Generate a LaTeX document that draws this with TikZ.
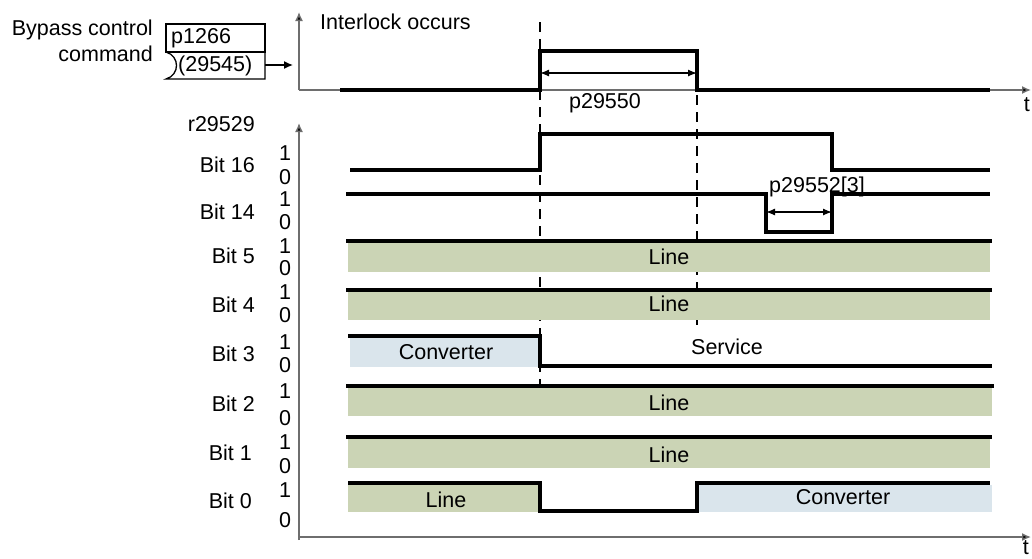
\documentclass[tikz,border=0pt]{standalone}
\usepackage{fontspec}
\setmainfont{Liberation Sans}
\usetikzlibrary{arrows.meta}
\definecolor{linegreen}{RGB}{203,212,181}
\definecolor{convblue}{RGB}{218,229,236}
\definecolor{axisgray}{RGB}{110,110,110}
\begin{document}
\begin{tikzpicture}[x=1pt,y=-1pt,
  txt/.style={inner sep=0pt, font=\fontsize{21.5}{25}\selectfont},
  sig/.style={line width=3.2pt, line join=miter, line cap=rect},
  axisline/.style={line width=1.4pt, draw=axisgray, -{Latex[length=9pt,width=8pt,fill=black]}},
  vdash/.style={line width=1.3pt, dash pattern=on 10pt off 7pt},
  span/.style={line width=1.3pt, {Latex[length=9pt,width=7pt]}-{Latex[length=9pt,width=7pt]}},
  greenfill/.style={fill=linegreen, draw=none},
  bluefill/.style={fill=convblue, draw=none}]
\useasboundingbox (0,0) rectangle (1032,558);

% ---------- top part ----------
\node[txt, anchor=east] (bypass1) at (153,30) {Bypass control};
\node[txt, anchor=east] (bypass2) at (153,54) {command};
\draw[line width=1.3pt] (166,24) rectangle (265,52);
\draw[line width=1.3pt] (166,52) .. controls (180,56) and (180,75) .. (166,79) -- (265,79) -- (265,52);
\node[txt, anchor=west] (p1266) at (171,38) {p1266};
\node[txt, anchor=west] (p29545) at (178,66) {(29545)};
\coordinate (boxout) at (265,65);
\coordinate (arrend) at (293,65);
\draw[line width=1.3pt, -{Latex[length=9pt,width=8pt]}] (boxout) -- (arrend);

\coordinate (o1) at (299,90);
\coordinate (y1) at (299,12);
\coordinate (x1) at (1031,90);
\draw[axisline] (o1) -- (y1);
\draw[axisline] (o1) -- (x1);
\node[txt, anchor=west] (interlock) at (320,22) {Interlock occurs};
\node[txt, anchor=north east] (t1) at (1030,97) {t};

\draw[sig] (342,90) -- (540,90) -- (540,51) -- (697,51) -- (697,90) -- (988,90);
\coordinate (sa) at (540,73);
\coordinate (sb) at (697,73);
\draw[span] (sa) -- (sb);
\node[txt] (p29550) at (605,103) {p29550};

% dashed markers
\coordinate (d1t) at (540,22);
\coordinate (d1b) at (540,385);
\coordinate (d2t) at (697,95);
\coordinate (d2b) at (697,325);
\draw[vdash] (d1t) -- (d1b);
\draw[vdash] (d2t) -- (d2b);

% ---------- bottom part ----------
\coordinate (o2) at (299,540);
\coordinate (y2) at (299,123);
\coordinate (x2) at (1031,537);
\draw[axisline] (o2) -- (y2);
\draw[axisline] (299,537) -- (x2);
\node[txt, anchor=south east] (t2) at (1029,555) {t};
\node[txt, anchor=east] (r29529) at (255,124) {r29529};

% labels
\foreach \nm/\lab/\lx/\ly/\oy/\zy in {b16/Bit 16/255/165/153/177, b14/Bit 14/255/212/199/222, b5/Bit 5/255/256/246/268, b4/Bit 4/255/305/292/315, b3/Bit 3/255/354/342/365, b2/Bit 2/255/404/391/418, b1/Bit 1/252/453/442/466, b0/Bit 0/252/501/490/520}{
  \node[txt, anchor=east] (\nm) at (\lx,\ly) {\lab};
  \node[txt] (\nm one) at (285,\oy) {1};
  \node[txt] (\nm zero) at (285,\zy) {0};
}

% fills
\fill[greenfill] (348,241) rectangle (990,272);
\fill[greenfill] (348,290) rectangle (990,320);
\fill[bluefill] (350,337) rectangle (540,367);
\fill[greenfill] (348,386) rectangle (992,416);
\fill[greenfill] (348,437) rectangle (990,468);
\fill[greenfill] (348,483) rectangle (540,512);
\fill[bluefill] (697,485) rectangle (992,512);

% signals
\draw[sig] (352,170) -- (540,170) -- (540,134) -- (832,134) -- (832,170) -- (988,170);
\draw[sig] (348,194) -- (766,194) -- (766,232) -- (832,232) -- (832,194) -- (988,194);
\coordinate (sc) at (766,212);
\coordinate (sd) at (832,212);
\draw[span] (sc) -- (sd);
\node[txt] (p29552) at (817,187) {p29552[3]};
\draw[sig] (348,241) -- (990,241);
\draw[sig] (348,290) -- (990,290);
\draw[sig] (350,336) -- (540,336) -- (540,366) -- (990,366);
\draw[sig] (348,386) -- (992,386);
\draw[sig] (348,437) -- (990,437);
\draw[sig] (350,483) -- (540,483) -- (540,511) -- (697,511) -- (697,483) -- (988,483);

% texts
\node[txt] (l5) at (669,257) {Line};
\node[txt] (l4) at (669,304) {Line};
\node[txt] (c3) at (446,352) {Converter};
\node[txt] (s3) at (727,347) {Service};
\node[txt] (l2) at (669,403) {Line};
\node[txt] (l1) at (669,455) {Line};
\node[txt] (l0) at (446,500) {Line};
\node[txt] (c0) at (843,497) {Converter};
\end{tikzpicture}
\end{document}
